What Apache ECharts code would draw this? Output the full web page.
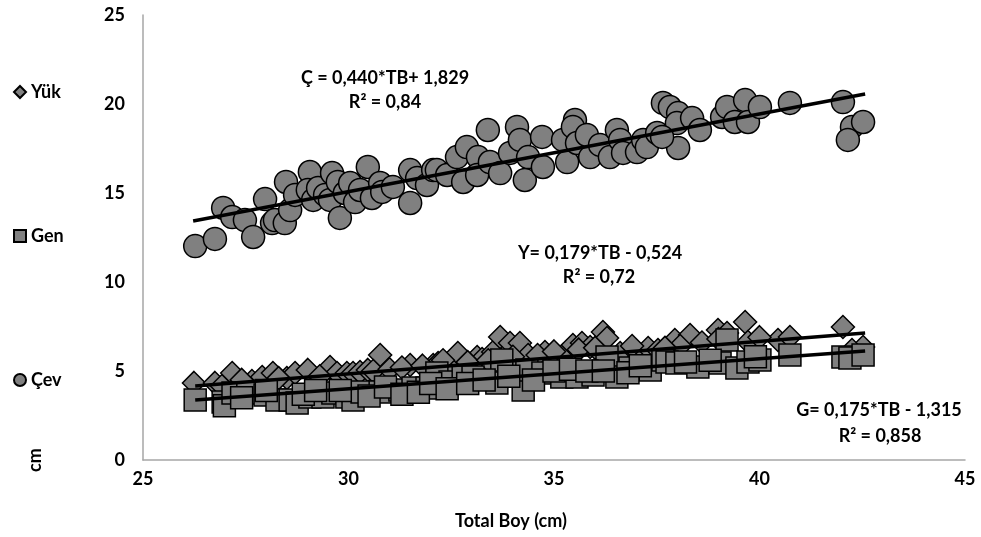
<!DOCTYPE html>
<html>
<head>
<meta charset="utf-8">
<script src="https://cdn.jsdelivr.net/npm/echarts@6/dist/echarts.min.js"></script>
<style>
  html, body { margin: 0; padding: 0; background: #fff; }
  #chart { width: 981px; height: 537px; }
</style>
</head>
<body>
<div id="chart"></div>
<script>
  // Çev (circles), Yük (diamonds), Gen (squares): [Total Boy, cm]
  var cevPoints = [
    [26.27, 12.02], [26.75, 12.42], [26.95, 14.16], [27.17, 13.65], [27.48, 13.48], [27.68, 12.53],
    [27.97, 14.66], [28.14, 13.31], [28.21, 13.48], [28.48, 15.62], [28.45, 13.31], [28.58, 14.04],
    [28.70, 14.89], [29.06, 16.18], [29.01, 15.17], [29.14, 14.61], [29.26, 15.28], [29.43, 14.89],
    [29.60, 16.12], [29.55, 14.61], [29.74, 15.62], [29.79, 13.60], [29.91, 15.00], [30.04, 15.56],
    [30.16, 14.49], [30.28, 15.17], [30.47, 16.46], [30.57, 14.72], [30.77, 15.56], [30.82, 15.06],
    [31.08, 15.34], [31.50, 16.29], [31.50, 14.44], [31.67, 15.84], [31.91, 15.45], [32.06, 16.29],
    [32.15, 16.29], [32.40, 16.01], [32.64, 17.02], [32.88, 17.58], [32.79, 15.62], [33.15, 17.02],
    [33.13, 16.01], [33.39, 18.54], [33.44, 16.74], [33.69, 16.12], [33.93, 17.25], [34.10, 18.71],
    [34.17, 17.98], [34.29, 15.73], [34.37, 17.02], [34.71, 18.15], [34.73, 16.46], [35.22, 17.98],
    [35.32, 16.74], [35.51, 19.10], [35.46, 18.71], [35.56, 17.81], [35.80, 18.26], [35.88, 17.02],
    [36.12, 17.70], [36.36, 17.02], [36.53, 18.54], [36.61, 17.98], [36.68, 17.25], [37.02, 17.30],
    [37.17, 17.98], [37.26, 17.58], [37.51, 18.37], [37.65, 20.06], [37.82, 19.83], [38.02, 19.49],
    [37.99, 18.93], [38.36, 19.21], [38.55, 18.54], [38.02, 17.53], [37.63, 18.15], [39.09, 19.27],
    [39.21, 19.83], [39.40, 18.99], [39.65, 20.22], [39.72, 18.99], [40.01, 19.83], [40.74, 20.06],
    [42.03, 20.11], [42.25, 18.71], [42.52, 18.99], [42.15, 17.98]
  ];
  var yukPoints = [
    [26.24, 4.33], [26.75, 4.33], [26.92, 4.16], [27.17, 4.89], [27.65, 4.44], [27.90, 4.66],
    [28.16, 4.89], [28.50, 4.61], [28.70, 4.89], [29.01, 5.06], [29.55, 5.22], [29.72, 4.89],
    [29.96, 4.89], [30.11, 4.89], [30.28, 4.94], [30.47, 5.06], [30.77, 5.90], [31.50, 5.34],
    [32.06, 5.34], [32.18, 5.45], [32.47, 5.34], [32.66, 6.01], [33.13, 5.79], [33.25, 5.67],
    [33.52, 6.07], [33.69, 6.91], [33.93, 6.57], [34.17, 6.57], [34.37, 5.90], [34.78, 6.07],
    [35.22, 5.90], [35.46, 6.46], [35.68, 6.57], [35.88, 6.35], [36.19, 7.19], [36.29, 6.85],
    [36.61, 6.01], [37.02, 6.01], [37.29, 6.29], [37.53, 6.18], [37.94, 6.74], [38.31, 7.02],
    [38.07, 6.40], [38.99, 7.30], [39.21, 7.13], [39.65, 7.75], [39.72, 6.63], [40.45, 6.74],
    [40.74, 6.91], [42.03, 7.47], [42.52, 6.35], [42.25, 6.18],
    [27.40, 4.50], [28.30, 4.60], [29.30, 4.70], [30.60, 5.00], [31.00, 5.10], [31.30, 5.20],
    [31.80, 5.30], [32.30, 5.60], [32.90, 5.50], [33.40, 5.60], [34.00, 5.80], [34.60, 5.90],
    [35.00, 6.10], [35.60, 6.20], [36.00, 6.30], [36.90, 6.40], [37.70, 6.30], [38.60, 6.60],
    [39.00, 6.80], [40.00, 6.90]
  ];
  var genPoints = [
    [26.27, 3.37], [26.95, 3.26], [26.98, 3.05], [27.19, 3.76], [27.55, 3.76], [27.97, 3.65],
    [28.26, 3.37], [28.58, 3.37], [28.75, 3.20], [29.06, 3.54], [29.38, 3.54], [29.62, 3.76],
    [29.96, 3.54], [30.11, 3.37], [30.33, 3.82], [30.77, 3.82], [31.25, 3.93], [31.57, 4.04],
    [31.91, 4.04], [32.15, 4.89], [32.47, 4.38], [32.79, 4.66], [33.03, 4.66], [33.61, 4.33],
    [33.73, 5.62], [34.25, 3.93], [34.34, 5.06], [34.73, 4.89], [35.19, 4.66], [35.56, 4.66],
    [35.95, 4.78], [36.29, 5.79], [36.53, 4.66], [36.85, 5.17], [37.34, 5.06], [37.65, 5.62],
    [37.75, 5.51], [37.99, 5.45], [38.50, 5.22], [39.21, 6.74], [39.04, 5.45], [39.45, 5.17],
    [39.72, 5.51], [40.01, 5.62], [40.74, 5.90], [42.03, 5.79], [42.20, 5.73], [42.52, 5.90],
    [27.40, 3.50], [28.00, 3.90], [28.90, 3.70], [29.20, 3.90], [29.80, 3.90], [30.50, 3.60],
    [30.90, 4.10], [31.30, 3.70], [31.70, 3.80], [32.00, 4.30], [32.40, 4.00], [32.90, 4.30],
    [33.30, 4.50], [33.90, 4.70], [34.50, 4.50], [35.00, 5.00], [35.40, 5.10], [35.80, 5.00],
    [36.20, 5.00], [36.80, 4.90], [37.10, 5.30], [38.20, 5.50], [38.80, 5.60], [39.90, 5.80]
  ];

  // trend line end points
  var cevTrend = [[26.22, 13.43], [42.57, 20.56]];
  var yukTrend = [[26.27, 4.16], [42.57, 7.13]];
  var genTrend = [[26.27, 3.37], [42.57, 6.12]];

  var seriesNames = ['Yük', 'Gen', 'Çev'];
  var xTicks = { min: 25, max: 45, step: 5 };
  var yTicks = { min: 0, max: 25, step: 5 };

  var FONT = 'Lato';
  var markerStyle = { color: '#808080', borderColor: '#000', borderWidth: 1.5, opacity: 1 };

  function trend(data) {
    return {
      type: 'line',
      data: data,
      symbol: 'none',
      silent: true,
      z: 10,
      lineStyle: { color: '#000', width: 3.5 }
    };
  }

  function txt(x, y, s, rot) {
    return {
      type: 'text',
      x: x,
      y: y,
      rotation: rot || 0,
      style: {
        text: s,
        font: 'bold 18px ' + FONT,
        fill: '#000',
        align: 'center',
        verticalAlign: 'middle'
      }
    };
  }

  var chart = echarts.init(document.getElementById('chart'));
  chart.setOption({
    animation: false,
    backgroundColor: '#fff',
    textStyle: { fontFamily: FONT },
    grid: { left: 143, right: 16, top: 15, bottom: 77 },
    legend: {
      data: seriesNames,
      orient: 'vertical',
      left: 8,
      top: 77,
      itemGap: 124,
      itemWidth: 12,
      itemHeight: 12,
      textStyle: { fontFamily: FONT, fontWeight: 'bold', fontSize: 18, color: '#000', lineHeight: 20 }
    },
    xAxis: {
      type: 'value',
      min: xTicks.min,
      max: xTicks.max,
      interval: xTicks.step,
      axisLine: { lineStyle: { color: '#a6a6a6', width: 1.5 } },
      axisTick: { show: false },
      splitLine: { show: false },
      axisLabel: { margin: 10, fontFamily: FONT, fontWeight: 'bold', fontSize: 18, color: '#000' }
    },
    yAxis: {
      type: 'value',
      min: yTicks.min,
      max: yTicks.max,
      interval: yTicks.step,
      axisLine: { show: true, lineStyle: { color: '#a6a6a6', width: 1.5 } },
      axisTick: { show: false },
      splitLine: { show: false },
      axisLabel: { margin: 18, fontFamily: FONT, fontWeight: 'bold', fontSize: 18, color: '#000' }
    },
    graphic: [
      txt(385, 78, 'Ç = 0,440*TB+ 1,829'),
      txt(385, 102, 'R² = 0,84'),
      txt(600, 253, 'Y= 0,179*TB - 0,524'),
      txt(599, 277, 'R² = 0,72'),
      txt(879, 410, 'G= 0,175*TB - 1,315'),
      txt(880, 436, 'R² = 0,858'),
      txt(511, 521, 'Total Boy (cm)'),
      txt(35, 460, 'cm', Math.PI / 2)
    ],
    series: [
      {
        name: 'Yük',
        type: 'scatter',
        symbol: 'diamond',
        symbolSize: 23,
        data: yukPoints,
        itemStyle: markerStyle,
        z: 2
      },
      {
        name: 'Gen',
        type: 'scatter',
        symbol: 'rect',
        symbolSize: 22,
        data: genPoints,
        itemStyle: markerStyle,
        z: 3
      },
      {
        name: 'Çev',
        type: 'scatter',
        symbol: 'circle',
        symbolSize: 23,
        data: cevPoints,
        itemStyle: markerStyle,
        z: 4
      },
      trend(cevTrend),
      trend(yukTrend),
      trend(genTrend)
    ]
  });
</script>
</body>
</html>
